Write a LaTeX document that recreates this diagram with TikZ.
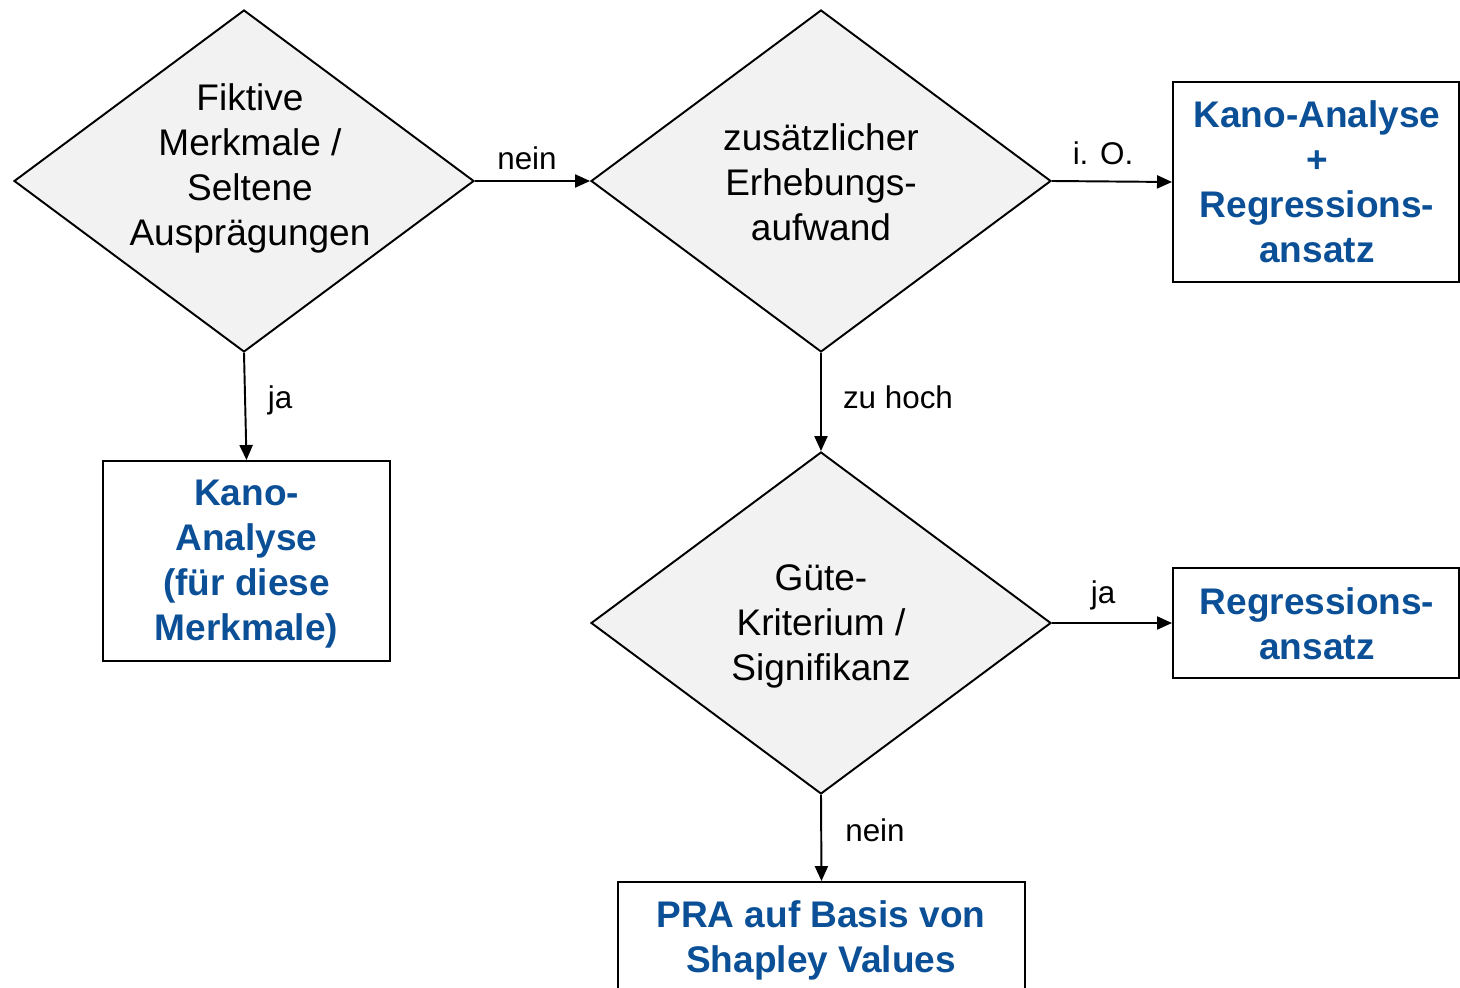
\documentclass[tikz,border=0pt]{standalone}
\usepackage{fontspec}
\setmainfont{Liberation Sans}
\usetikzlibrary{shapes.geometric,arrows.meta}
\definecolor{kblue}{HTML}{0B4F96}
\definecolor{dfill}{HTML}{F2F2F2}
\begin{document}
\begin{tikzpicture}[x=0.567pt,y=-0.567pt,
  dec/.style={draw, diamond, fill=dfill, line width=1.1pt, inner sep=0pt,
    minimum width=260.8pt, minimum height=193.9pt},
  dectext/.style={align=center, font=\fontsize{21}{25.5}\selectfont, inner sep=0pt},
  res/.style={draw, line width=1.1pt, inner sep=0pt, minimum width=162.7pt},
  restext/.style={align=center, inner sep=0pt,
    font=\fontsize{21}{25.5}\selectfont\bfseries, text=kblue},
  lbl/.style={font=\fontsize{17.8}{21}\selectfont, inner sep=0pt},
  arr/.style={line width=1.1pt, -{Triangle[length=8.5pt,width=7.4pt]}}]
\clip (0,0) rectangle (1460,988);
% decisions
\node[dec] (d1) at (244,181) {};
\node[dectext] (t1) at (250,168) {Fiktive\\Merkmale /\\Seltene\\Ausprägungen};
\node[dec] (d2) at (821,181) {};
\node[dectext] (t2) at (821,182) {zusätzlicher\\Erhebungs-\\aufwand};
\node[dec] (d3) at (821,623) {};
\node[dectext] (t3) at (821,626) {Güte-\\Kriterium /\\Signifikanz};
% results
\node[res, minimum height=113.4pt] (b1) at (246.5,561) {};
\node[restext] (tb1) at (246.5,564) {Kano-\\Analyse\\(für diese\\Merkmale)};
\node[res, minimum height=113.4pt, minimum width=162.2pt] (b2) at (1316,182) {};
\node[restext] (tb2) at (1317,182) {Kano-Analyse\\+\\Regressions-\\ansatz};
\node[res, minimum height=62.4pt, minimum width=162.2pt] (b3) at (1316,623) {};
\node[restext] (tb3) at (1317,624) {Regressions-\\ansatz};
\node[res, minimum height=73.7pt, minimum width=230.8pt] (b4) at (821.5,947) {};
\node[restext] (tb4) at (821,940.5) {PRA auf Basis von\\Shapley Values};
% connectors
\draw[arr] (d1.east) -- (d2.west);
\draw[arr] (d2.east) -- (b2.west);
\draw[arr] (d1.south) -- (b1.north);
\draw[arr] (d2.south) -- (d3.north);
\draw[arr] (d3.east) -- (b3.west);
\draw[arr] (d3.south) -- (b4.north);
% labels
\node[lbl] (l1) at (527,158) {nein};
\node[lbl] (l2) at (1103,153) {i. O.};
\node[lbl] (l3) at (280,400) {ja};
\node[lbl] (l4) at (898,397) {zu hoch};
\node[lbl] (l5) at (1103,595) {ja};
\node[lbl] (l6) at (875,830) {nein};
\end{tikzpicture}
\end{document}
